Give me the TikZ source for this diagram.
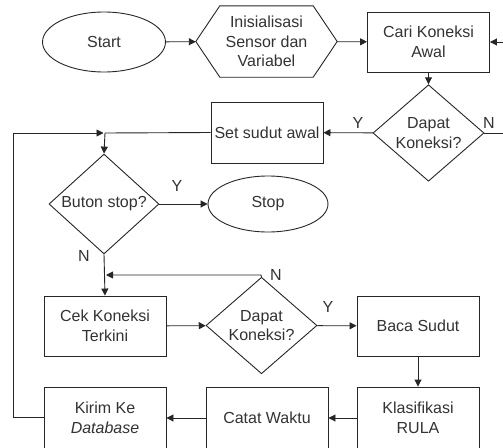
\documentclass[tikz,border=0pt]{standalone}
\usepackage{fontspec}
\setmainfont{Liberation Sans}
\usetikzlibrary{shapes.geometric,arrows.meta,calc}
\begin{document}
\begin{tikzpicture}[x=1pt,y=-1pt,
  every node/.style={font=\fontsize{16}{19.5}\selectfont, text=black!80, align=center, inner sep=0pt},
  box/.style={draw=black!85, line width=0.9pt, rectangle, minimum width=122pt, minimum height=60pt},
  oval/.style={draw=black!85, line width=0.9pt, ellipse, minimum width=123pt, minimum height=60pt},
  decision/.style={draw=black!85, line width=0.9pt, diamond, minimum width=111pt, minimum height=81pt},
  conn/.style={draw=black!85, line width=0.9pt},
  arr/.style={conn, -{Triangle[length=7pt,width=7pt]}},
  lbl/.style={font=\fontsize{16}{19.5}\selectfont}
]
\useasboundingbox (0,0) rectangle (503,447);
\clip (0,0) rectangle (503,447);
\fill[white] (0,0) rectangle (503,447);

% nodes
\node[oval] (start) at (104,42) {Start};
\node[minimum width=141pt, minimum height=71pt] (init) at (266.5,41.5) {Inisialisasi\\Sensor dan\\Variabel};
\draw[conn] (init.west) -- ($(init.north west)+(24,0)$) -- ($(init.north east)+(-24,0)$) -- (init.east)
  -- ($(init.south east)+(-24,0)$) -- ($(init.south west)+(24,0)$) -- cycle;
\node[box] (cari) at (428.5,42) {Cari Koneksi\\Awal};
\node[decision] (d1) at (428.5,133) {Dapat\\Koneksi?};
\node[box, minimum width=112pt, minimum height=61pt] (set) at (267,132.5) {Set sudut awal};
\node[decision, minimum width=110pt, minimum height=80pt] (buton) at (104,204) {Buton stop?};
\node[oval, minimum width=120pt, minimum height=56pt] (stop) at (268,204) {Stop};
\node[box] (cek) at (105,326) {Cek Koneksi\\Terkini};
\node[decision] (d2) at (261.5,325.5) {Dapat\\Koneksi?};
\node[box] (baca) at (418,326) {Baca Sudut};
\node[box, minimum height=62pt] (klas) at (418,418) {Klasifikasi\\RULA};
\node[box, minimum height=62pt] (catat) at (267,418) {Catat Waktu};
\node[box, minimum height=62pt] (kirim) at (105,418) {Kirim Ke\\\textit{Database}};

% junction coordinates
\coordinate (j1) at (105,133);
\coordinate (jl) at (13,133);
\coordinate (jb) at (13,417);
\coordinate (j2) at (261,275);
\coordinate (j3) at (106,275);
\coordinate (r1) at (515,133);
\coordinate (r2) at (515,42);

% connectors
\draw[arr] (start) -- (init);
\draw[arr] (init) -- (cari);
\draw[arr] (d1.east) -- (r1) -- (r2) -- (cari.east);
\draw[arr] (cari) -- (d1);
\draw[arr] (d1) -- (set);
\draw[arr] (set.west) -- (j1) -- (buton.north);
\draw[arr] (kirim.west |- jb) -- (jb) -- (jl) -- ($(j1)+(-1.5,0)$);
\draw[arr] (buton) -- (stop);
\draw[arr] (buton.south) -- (cek.north);
\draw[arr] (d2.north) -- (j2) -- (j3);
\draw[arr] (cek) -- (d2);
\draw[arr] (d2) -- (baca);
\draw[arr] (baca) -- (klas);
\draw[arr] (klas) -- (catat);
\draw[arr] (catat) -- (kirim);

% labels
\node[lbl] (ly1) at (358,123) {Y};
\node[lbl] (ln1) at (489,123) {N};
\node[lbl] (ly2) at (177,186) {Y};
\node[lbl] (ln2) at (84,256) {N};
\node[lbl] (ln3) at (276,275) {N};
\node[lbl] (ly3) at (328,307) {Y};
\end{tikzpicture}
\end{document}
